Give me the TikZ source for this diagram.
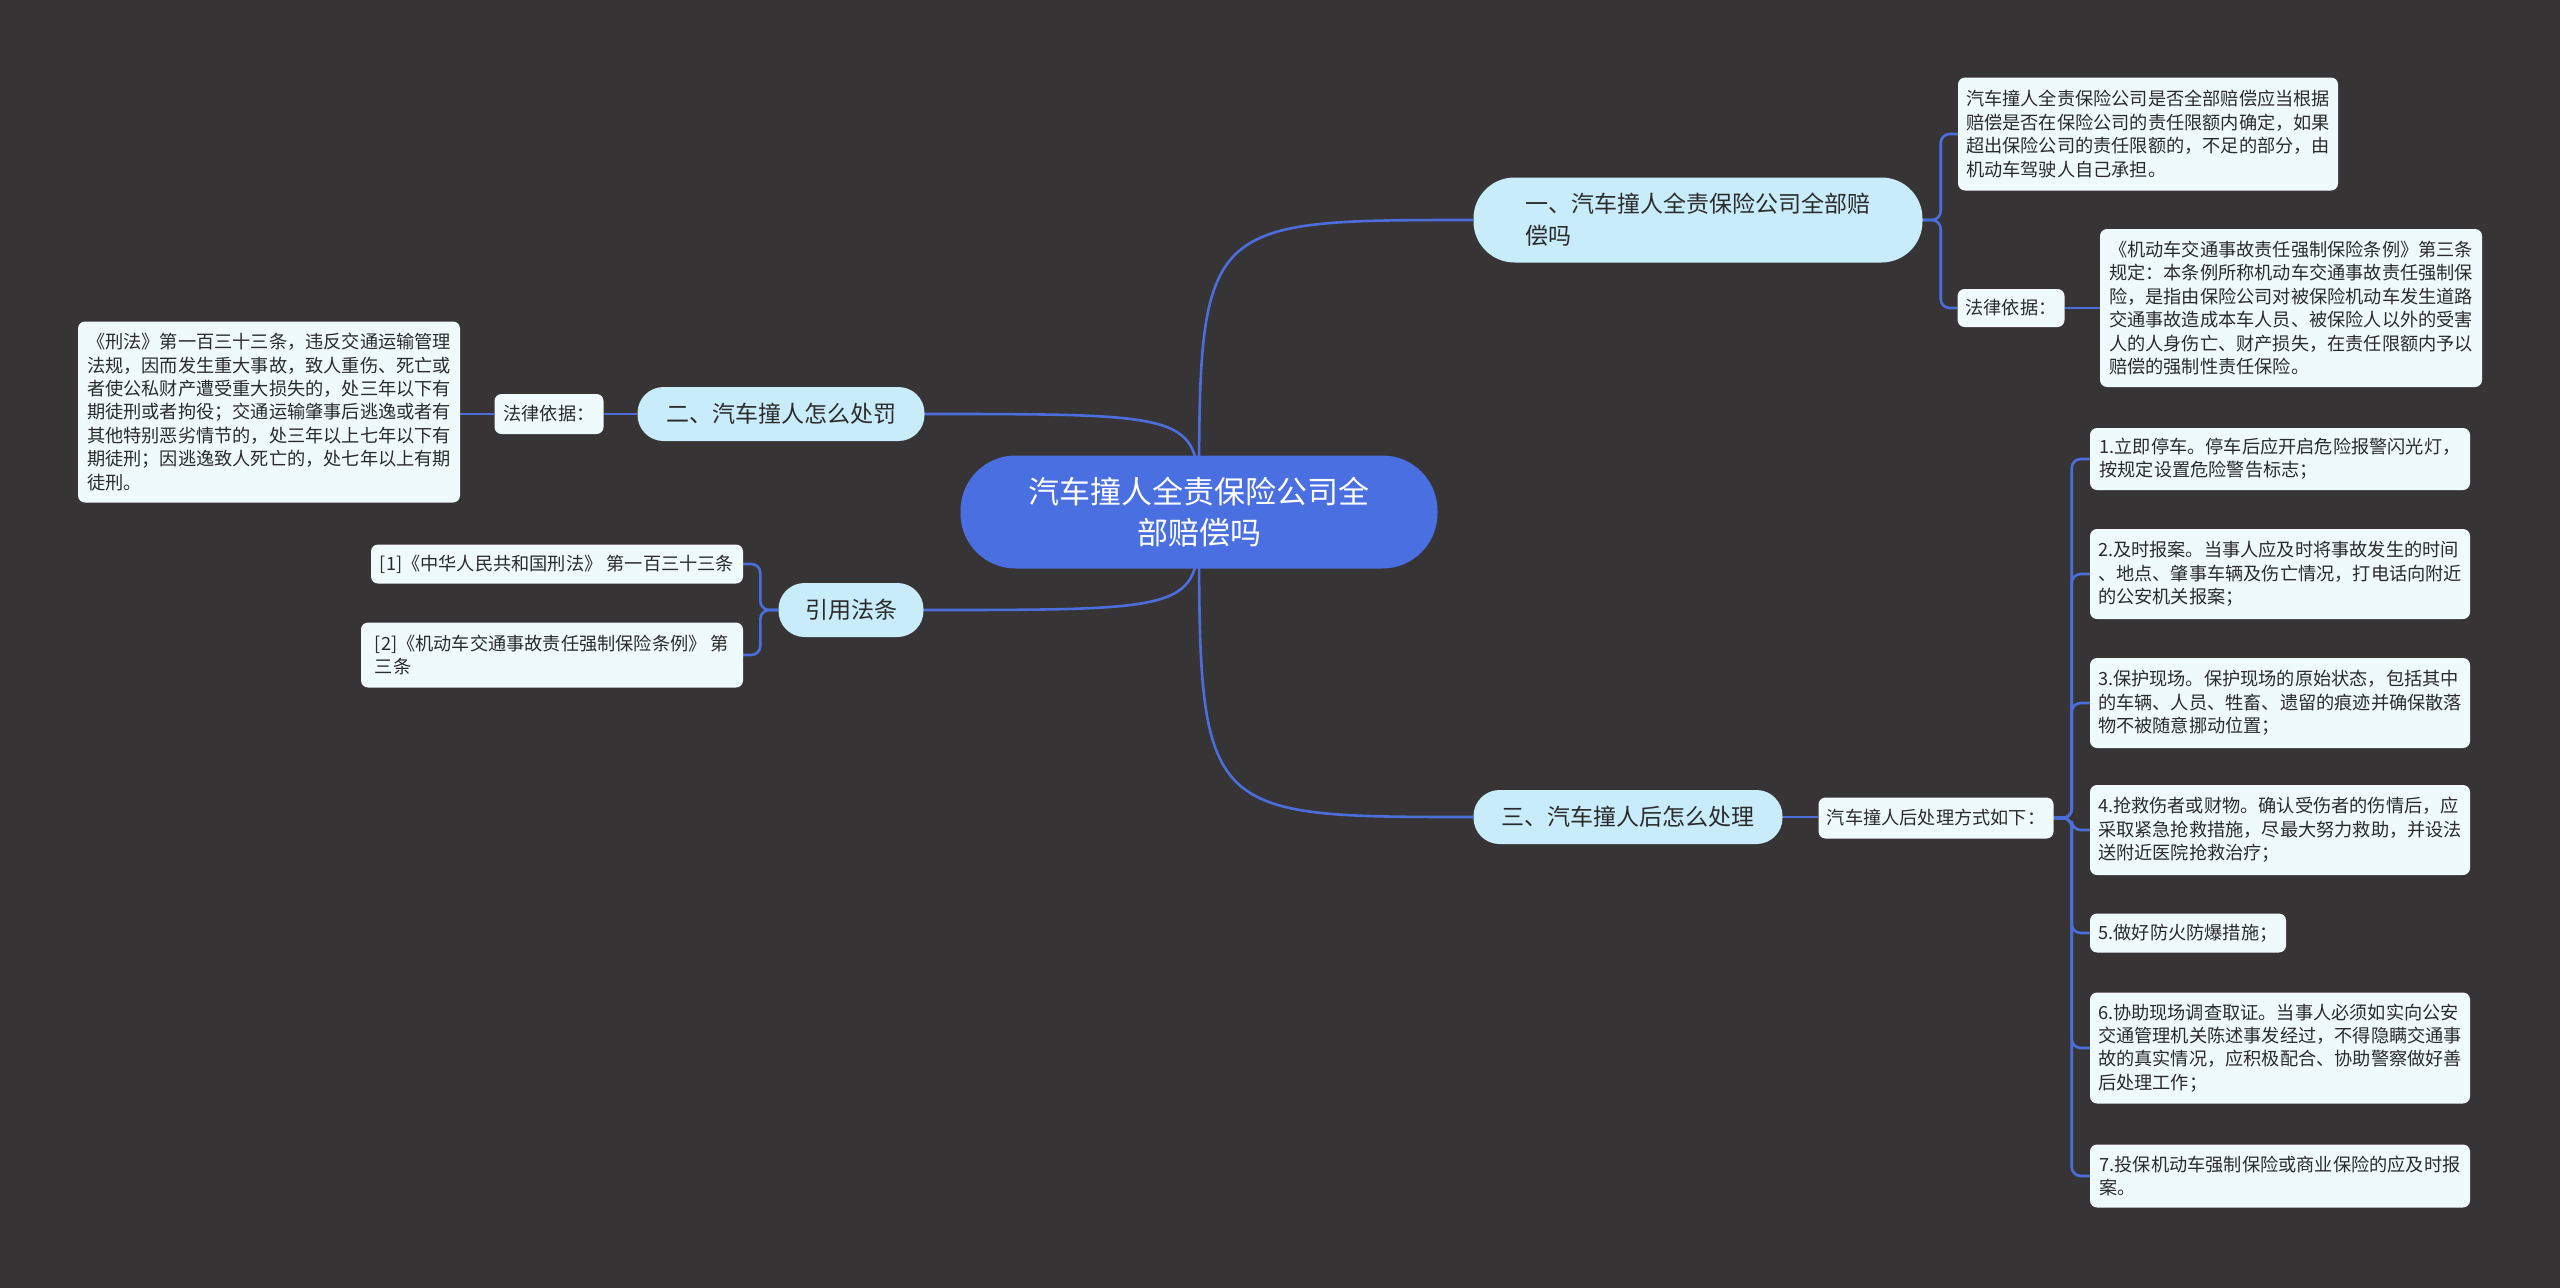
\documentclass[tikz,border=0pt]{standalone}
\usepackage{fontspec}
\setmainfont{Noto Sans CJK SC}
\usetikzlibrary{positioning,calc}
\definecolor{canvas}{HTML}{363435}
\definecolor{wire}{HTML}{4B6EDC}
\definecolor{rootfill}{HTML}{4A6FE0}
\definecolor{topicfill}{HTML}{C9ECFB}
\definecolor{notefill}{HTML}{EFFAFD}
\definecolor{ink}{HTML}{2B2B2B}
\pgfdeclarelayer{bg}
\pgfsetlayers{bg,main}
\tikzset{
  link/.style={draw=wire,line width=2.6pt},
  bracket/.style={draw=wire,line width=2.6pt,rounded corners=9pt},
  rootbox/.style={fill=rootfill,rounded corners=55pt,minimum width=477pt,minimum height=113pt,text=white,align=center,font=\fontsize{31}{41}\selectfont},
  topic/.style={fill=topicfill,text=ink,rounded corners=26pt,minimum height=54pt,font=\fontsize{23}{32}\selectfont},
  note/.style={fill=notefill,text=ink,rounded corners=7pt,inner xsep=6pt,align=left,font=\fontsize{18.2}{23.4}\selectfont},
}

\begin{document}
\begin{tikzpicture}[x=1pt,y=-1pt]
\begin{pgfonlayer}{bg}
\fill[canvas] (0,0) rectangle (2560,1288);
\end{pgfonlayer}
\useasboundingbox (0,0) rectangle (2560,1288);

% root ------------------------------------------------------------------------
\node[rootbox] (root) at (1199,512) {汽车撞人全责保险公司全\\部赔偿吗};

% (一) full compensation ------------------------------------------------------
\node[topic,rounded corners=41pt,minimum width=449pt,minimum height=85pt,align=left] (q1) at (1698,220) {一、汽车撞人全责保险公司全部赔\\偿吗};
\node[note,minimum width=380pt,minimum height=113pt] (ans1) at (2148,134) {汽车撞人全责保险公司是否全部赔偿应当根据\\赔偿是否在保险公司的责任限额内确定，如果\\超出保险公司的责任限额的，不足的部分，由\\机动车驾驶人自己承担。};
\node[note,minimum width=107pt,minimum height=38pt] (basis1) at (2011,308) {法律依据：};
\node[note,minimum width=382pt,minimum height=158pt] (basis2) at (2291,308) {《机动车交通事故责任强制保险条例》第三条\\规定：本条例所称机动车交通事故责任强制保\\险，是指由保险公司对被保险机动车发生道路\\交通事故造成本车人员、被保险人以外的受害\\人的人身伤亡、财产损失，在责任限额内予以\\赔偿的强制性责任保险。};

% (二) penalty ---------------------------------------------------------------
\node[topic,minimum width=287pt] (q2) at (781,414) {二、汽车撞人怎么处罚};
\node[note,minimum width=109pt,minimum height=40pt] (law2) at (549,414) {法律依据：};
\node[note,minimum width=382pt,minimum height=181pt] (lawtext) at (269,412) {《刑法》第一百三十三条，违反交通运输管理\\法规，因而发生重大事故，致人重伤、死亡或\\者使公私财产遭受重大损失的，处三年以下有\\期徒刑或者拘役；交通运输肇事后逃逸或者有\\其他特别恶劣情节的，处三年以上七年以下有\\期徒刑；因逃逸致人死亡的，处七年以上有期\\徒刑。};

% cited articles -------------------------------------------------------------
\node[topic,minimum width=145pt] (cite) at (851,610) {引用法条};
\node[note,minimum width=372pt,minimum height=39pt] (cite1) at (557,564) {[1]《中华人民共和国刑法》 第一百三十三条};
\node[note,minimum width=382pt,minimum height=65pt] (cite2) at (552,655) {[2]《机动车交通事故责任强制保险条例》 第\\三条};

% (三) what to do ------------------------------------------------------------
\node[topic,minimum width=309pt] (q3) at (1628,817) {三、汽车撞人后怎么处理};
\node[note,minimum width=235pt,minimum height=41pt] (howto) at (1936,818) {汽车撞人后处理方式如下：};
\node[note,minimum width=380pt,minimum height=62pt] (step1) at (2280,459) {1.立即停车。停车后应开启危险报警闪光灯，\\按规定设置危险警告标志；};
\node[note,minimum width=380pt,minimum height=90pt] (step2) at (2280,574) {2.及时报案。当事人应及时将事故发生的时间\\、地点、肇事车辆及伤亡情况，打电话向附近\\的公安机关报案；};
\node[note,minimum width=380pt,minimum height=90pt] (step3) at (2280,703) {3.保护现场。保护现场的原始状态，包括其中\\的车辆、人员、牲畜、遗留的痕迹并确保散落\\物不被随意挪动位置；};
\node[note,minimum width=380pt,minimum height=90pt] (step4) at (2280,830) {4.抢救伤者或财物。确认受伤者的伤情后，应\\采取紧急抢救措施，尽最大努力救助，并设法\\送附近医院抢救治疗；};
\node[note,minimum width=196pt,minimum height=39pt] (step5) at (2188,933) {5.做好防火防爆措施；};
\node[note,minimum width=380pt,minimum height=111pt] (step6) at (2280,1048) {6.协助现场调查取证。当事人必须如实向公安\\交通管理机关陈述事发经过，不得隐瞒交通事\\故的真实情况，应积极配合、协助警察做好善\\后处理工作；};
\node[note,minimum width=380pt,minimum height=63pt] (step7) at (2280,1176) {7.投保机动车强制保险或商业保险的应及时报\\案。};

% connectors -----------------------------------------------------------------
\begin{pgfonlayer}{bg}
\draw[link] (root.center) .. controls (root.center |- q1.west) .. (q1.west);
\draw[link] (root.center) .. controls (root.center |- q2.east) .. (q2.east);
\draw[link] (root.center) .. controls (root.center |- cite.east) .. (cite.east);
\draw[link] (root.center) .. controls (root.center |- q3.west) .. (q3.west);
\draw[bracket] (q1.east) -- ++(18,0) |- (ans1.west);
\draw[bracket] (q1.east) -- ++(18,0) |- (basis1.west);
\draw[link] (basis1.east) -- (basis2.west);
\draw[link] (q2.west) -- (law2.east);
\draw[link] (law2.west) -- (law2.west -| lawtext.east);
\draw[bracket] (cite.west) -- ++(-18,0) |- (cite1.east);
\draw[bracket] (cite.west) -- ++(-18,0) |- (cite2.east);
\draw[link] (q3.east) -- (q3.east -| howto.west);
\foreach \i in {1,...,7}
  \draw[bracket] (howto.east) -- ++(18,0) |- (step\i.west);
\end{pgfonlayer}

\end{tikzpicture}
\end{document}
